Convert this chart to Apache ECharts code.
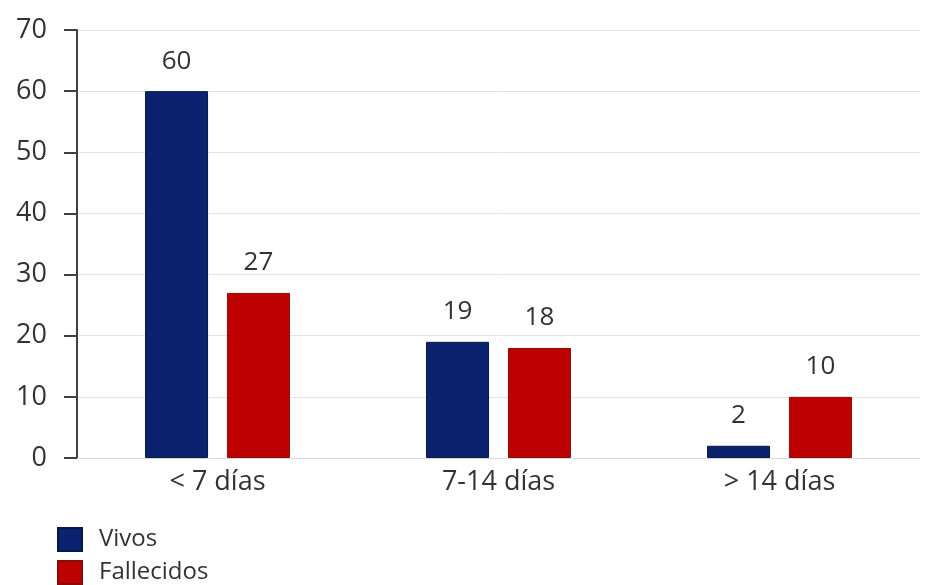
<!DOCTYPE html>
<html>
<head>
  <meta charset="utf-8">
  <title>Vivos / Fallecidos</title>
  <script src="https://cdn.jsdelivr.net/npm/echarts@6/dist/echarts.min.js"></script>
  <style>
    html, body { margin: 0; padding: 0; background: #fff; }
    #chart { width: 928px; height: 585px; }
  </style>
</head>
<body>
  <div id="chart"></div>
  <script type="text/javascript">
    // datos del grafico
    var categorias = ['< 7 días', '7-14 días', '> 14 días'];
    var vivos = [60, 19, 2];
    var fallecidos = [27, 18, 10];

    var fuente = '"Open Sans", "Noto Sans", sans-serif';

    var myChart = echarts.init(document.getElementById('chart'));
    var option = {
      animation: false,
      backgroundColor: '#ffffff',
      grid: {
        left: 77,
        right: 8,
        top: 30,
        bottom: 127
      },
      legend: {
        orient: 'vertical',
        left: 57,
        top: 527,
        padding: 0,
        itemWidth: 24,
        itemHeight: 23,
        itemGap: 8,
        icon: 'rect',
        textStyle: { fontFamily: fuente, fontSize: 24, color: '#333', padding: [2, 0, 0, 12] },
        data: ['Vivos', 'Fallecidos']
      },
      xAxis: {
        type: 'category',
        data: categorias,
        axisLine: { show: true, lineStyle: { color: '#d9d9d9', width: 1 } },
        axisTick: { show: false },
        axisLabel: { fontFamily: fuente, fontSize: 27, color: '#333', margin: 11 }
      },
      yAxis: {
        type: 'value',
        min: 0,
        max: 70,
        interval: 10,
        axisLine: { show: true, lineStyle: { color: '#404040', width: 2 } },
        axisTick: { show: true, length: 13, lineStyle: { color: '#404040', width: 2 } },
        axisLabel: { fontFamily: fuente, fontSize: 27, color: '#333', margin: 30 },
        splitLine: { show: true, lineStyle: { color: '#e3e3e3', width: 1 } }
      },
      series: [
        {
          name: 'Vivos',
          type: 'bar',
          data: vivos,
          barWidth: 63,
          barGap: '30%',
          itemStyle: { color: '#0b226f', borderColor: '#061848', borderWidth: 1 },
          label: { show: true, position: 'top', distance: 17, fontFamily: fuente, fontSize: 26, color: '#333' }
        },
        {
          name: 'Fallecidos',
          type: 'bar',
          data: fallecidos,
          barWidth: 63,
          barGap: '30%',
          itemStyle: { color: '#bd0000', borderColor: '#8a0a0a', borderWidth: 1 },
          label: { show: true, position: 'top', distance: 17, fontFamily: fuente, fontSize: 26, color: '#333' }
        }
      ]
    };
    myChart.setOption(option);
  </script>
</body>
</html>
